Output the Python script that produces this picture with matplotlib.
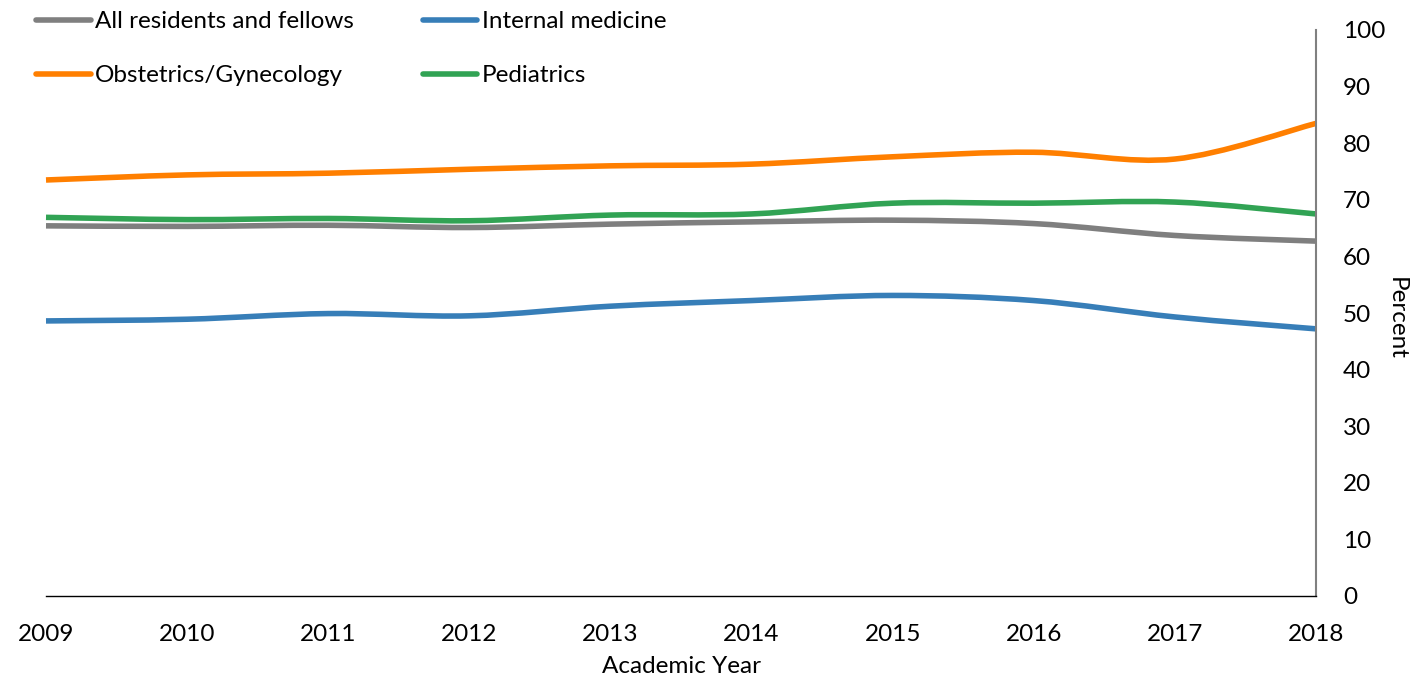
import matplotlib
matplotlib.use("Agg")
import matplotlib.pyplot as plt
from matplotlib.path import Path
from matplotlib.patches import PathPatch
from matplotlib.lines import Line2D

years = [2009, 2010, 2011, 2012, 2013, 2014, 2015, 2016, 2017, 2018]
all_residents = [65.4, 65.3, 65.5, 65.1, 65.7, 66.1, 66.4, 65.8, 63.7, 62.7]
internal_medicine = [48.6, 48.9, 49.9, 49.5, 51.2, 52.2, 53.1, 52.2, 49.3, 47.2]
obgyn = [73.5, 74.4, 74.7, 75.4, 76.0, 76.3, 77.6, 78.4, 77.2, 83.5]
pediatrics = [66.9, 66.5, 66.7, 66.3, 67.3, 67.5, 69.4, 69.4, 69.6, 67.5]

series = [
    ("All residents and fellows", all_residents, "#7F7F7F"),
    ("Internal medicine", internal_medicine, "#377EB8"),
    ("Obstetrics/Gynecology", obgyn, "#FF7F00"),
    ("Pediatrics", pediatrics, "#31A354"),
]

FS = 17.5
plt.rcParams["font.family"] = ["Lato", "DejaVu Sans"]

fig = plt.figure(figsize=(14.28, 6.79), dpi=100)
ax = fig.add_axes([46 / 1428, 83 / 679, 1270 / 1428, 566 / 679])


def smooth_path(xs, ys):
    """Cubic Bezier path through the points (spreadsheet-style smoothed line)."""
    pts = list(zip(xs, ys))
    n = len(pts)
    verts = [pts[0]]
    codes = [Path.MOVETO]
    for i in range(n - 1):
        p0 = pts[i - 1] if i > 0 else pts[i]
        p1 = pts[i]
        p2 = pts[i + 1]
        p3 = pts[i + 2] if i + 2 < n else pts[i + 1]
        c1 = (p1[0] + (p2[0] - p0[0]) / 6, p1[1] + (p2[1] - p0[1]) / 6)
        c2 = (p2[0] - (p3[0] - p1[0]) / 6, p2[1] - (p3[1] - p1[1]) / 6)
        verts += [c1, c2, p2]
        codes += [Path.CURVE4] * 3
    return Path(verts, codes)


handles = {}
for label, vals, color in series:
    patch = PathPatch(smooth_path(years, vals), facecolor="none", edgecolor=color,
                      linewidth=4.0, capstyle="butt", joinstyle="round", clip_on=False)
    ax.add_patch(patch)
    handles[label] = Line2D([], [], color=color, linewidth=4.0,
                            solid_capstyle="round", label=label)

ax.set_xlim(2009, 2018)
ax.set_ylim(0, 100)
ax.set_xticks(years)
ax.set_xticklabels([str(y) for y in years])
ax.set_yticks(range(0, 101, 10))

ax.yaxis.tick_right()
ax.yaxis.set_label_position("right")
for side in ("top", "left"):
    ax.spines[side].set_visible(False)
ax.spines["right"].set_color("#808080")
ax.spines["right"].set_linewidth(1.5)
ax.spines["bottom"].set_color("#000000")
ax.spines["bottom"].set_linewidth(1.0)

ax.tick_params(axis="x", length=0, pad=20, labelsize=FS)
ax.tick_params(axis="y", length=0, labelsize=FS)
ax.yaxis.set_tick_params(pad=19.5)

ax.set_xlabel("Academic Year", fontsize=FS, labelpad=8)
ax.set_ylabel("Percent", fontsize=FS, rotation=270, va="center")
ax.yaxis.set_label_coords(1396 / 1428, 1 - 318 / 679, transform=fig.transFigure)

# legend laid out row by row: matplotlib fills columns first
order = ["All residents and fellows", "Obstetrics/Gynecology",
         "Internal medicine", "Pediatrics"]
fig.legend(handles=[handles[k] for k in order], loc="upper left", ncol=2,
           bbox_to_anchor=(36 / 1428, 1 - 11 / 679),
           frameon=False, fontsize=FS, handlelength=2.25, handletextpad=0.17,
           columnspacing=2.84, labelspacing=1.37, borderaxespad=0, borderpad=0)

fig.savefig("out.png", dpi=100)
